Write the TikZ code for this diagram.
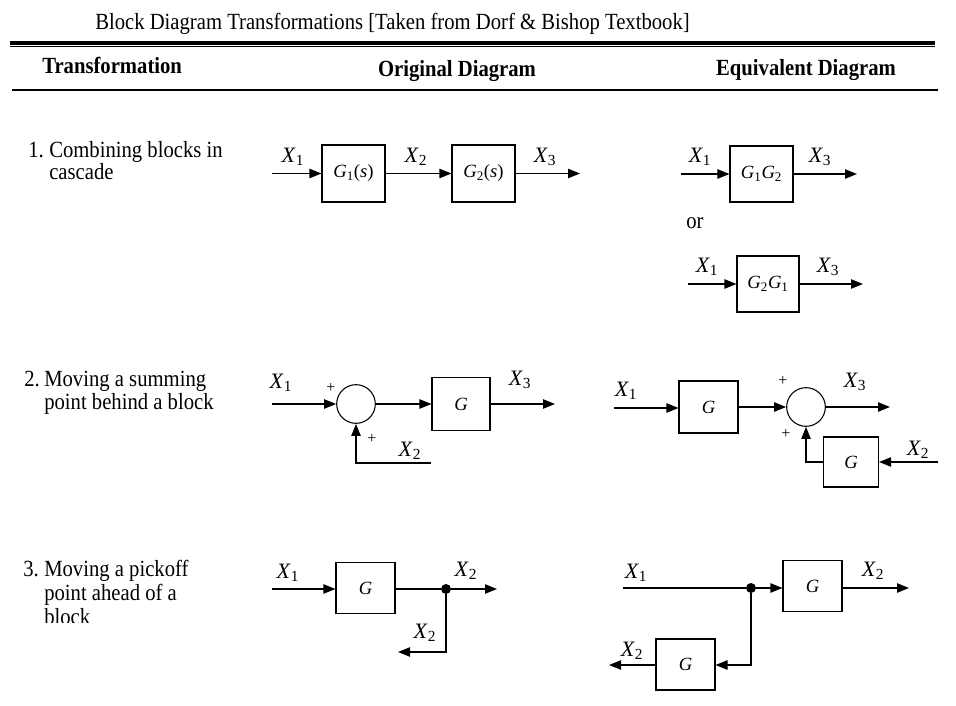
\documentclass[tikz,border=0pt]{standalone}
\usepackage{fontspec}
\setmainfont{Liberation Serif}
\usetikzlibrary{arrows.meta}
\newcommand{\Xs}[1]{\textit{X}\textsubscript{#1}}
\newcommand{\Gs}[1]{\textit{G}\textsubscript{#1}}
\begin{document}
\begin{tikzpicture}[x=0.75pt,y=-0.75pt,
 sig/.style={line width=1pt,-{Triangle[length=9pt,width=7pt]}},
 wire/.style={line width=1pt},
 blk/.style={draw,line width=0.8pt,inner sep=0pt,font=\fontsize{14}{16}\selectfont},
 sumn/.style={draw,circle,line width=0.8pt,minimum size=29pt,inner sep=0pt},
 dotn/.style={circle,fill,minimum size=7.5pt,inner sep=0pt},
 lbl/.style={font=\fontsize{16.5}{18}\selectfont,inner sep=0pt},
 plus/.style={font=\fontsize{12}{14}\selectfont,inner sep=0pt},
 body/.style={font=\fontsize{15.5}{18}\selectfont,inner sep=0pt,anchor=base west,yscale=1.12,transform shape},
 hdr/.style={font=\bfseries\fontsize{15.5}{18}\selectfont,inner sep=0pt,anchor=base,yscale=1.12,transform shape},
]
\useasboundingbox[fill=white] (0,0) rectangle (956,706);

% title and rules
\node[body] (title) at (95,30) {Block Diagram Transformations [Taken from Dorf \& Bishop Textbook]};
\draw[line width=2.6pt] (10,43) -- (935,43);
\draw[line width=1pt] (10,46.8) -- (935,46.8);
\node[hdr,anchor=base west] (h1) at (42,74) {Transformation};
\node[hdr] (h2) at (457,77) {Original Diagram};
\node[hdr] (h3) at (806,76) {Equivalent Diagram};
\draw[line width=1.1pt] (12,90) -- (938,90);

% row texts
\node[body] (n1) at (28,158) {1.};
\node[body] (t1a) at (49,158) {Combining blocks in};
\node[body] (t1b) at (49,180) {cascade};
\node[body] (n2) at (24,386) {2.};
\node[body] (t2a) at (44,386) {Moving a summing};
\node[body] (t2b) at (44,409) {point behind a block};
\node[body] (n3) at (23,576) {3.};
\node[body] (t3a) at (44,576) {Moving a pickoff};
\node[body] (t3b) at (44,600) {point ahead of a};
\begin{scope}
\clip (0,605) rectangle (240,622);
\node[body] (t3c) at (44,624) {block};
\end{scope}

% ---- row 1 original
\coordinate (a1) at (272,173.5);
\node[blk,minimum width=47.25pt,minimum height=42.75pt] (g1) at (353.5,173.5) {\Gs{1}(\textit{s})};
\node[blk,minimum width=47.25pt,minimum height=42.75pt] (g2) at (483.5,173.5) {\Gs{2}(\textit{s})};
\coordinate (a3) at (580,173.5);
\draw[sig] (a1) -- (g1);
\draw[sig] (g1) -- (g2);
\draw[sig] (g2) -- (a3);
\node[lbl] (la1) at (293,157) {\Xs{1}};
\node[lbl] (la2) at (416,157) {\Xs{2}};
\node[lbl] (la3) at (545,157) {\Xs{3}};

% ---- row 1 equivalent
\coordinate (b1) at (681,174);
\node[blk,minimum width=47.25pt,minimum height=42pt] (g12) at (761.5,174) {\Gs{1}\Gs{2}};
\coordinate (b3) at (857,174);
\draw[sig] (b1) -- (g12);
\draw[sig] (g12) -- (b3);
\node[lbl] (lb1) at (700,157) {\Xs{1}};
\node[lbl] (lb3) at (820,157) {\Xs{3}};
\node[body] (or) at (686,228) {or};
\coordinate (b4) at (688,284);
\node[blk,minimum width=46.5pt,minimum height=42pt] (g21) at (768,284) {\Gs{2}\Gs{1}};
\coordinate (b6) at (863,284);
\draw[sig] (b4) -- (g21);
\draw[sig] (g21) -- (b6);
\node[lbl] (lb4) at (707,267) {\Xs{1}};
\node[lbl] (lb6) at (828,267) {\Xs{3}};

% ---- row 2 original
\coordinate (c1) at (272,404);
\node[sumn] (s1) at (356,404) {};
\node[blk,minimum width=43.5pt,minimum height=39.75pt] (g3) at (461,404) {\textit{G}};
\coordinate (c3) at (555,404);
\coordinate (c2) at (431,463);
\draw[sig] (c1) -- (s1);
\draw[sig] (s1) -- (g3);
\draw[sig] (g3) -- (c3);
\draw[sig] (c2) -| (s1);
\node[plus] (p1a) at (331,388) {+};
\node[plus] (p1b) at (372,439) {+};
\node[lbl] (lc1) at (281,383) {\Xs{1}};
\node[lbl] (lc3) at (520,380) {\Xs{3}};
\node[lbl] (lc2) at (410,451) {\Xs{2}};

% ---- row 2 equivalent
\coordinate (d1) at (614,408);
\node[blk,minimum width=44.25pt,minimum height=39pt] (g4) at (708.5,407) {\textit{G}};
\node[sumn] (s2) at (806,407) {};
\coordinate (d3) at (890,407);
\node[blk,minimum width=41.25pt,minimum height=37.5pt] (g5) at (851,462) {\textit{G}};
\coordinate (d2) at (938,462);
\draw[sig] (d1) -- (d1 -| g4.west);
\draw[sig] (g4) -- (s2);
\draw[sig] (s2) -- (d3);
\draw[sig] (d2) -- (g5);
\draw[sig] (g5) -| (s2);
\node[plus] (p2a) at (783,381) {+};
\node[plus] (p2b) at (786,434) {+};
\node[lbl] (ld1) at (626,391) {\Xs{1}};
\node[lbl] (ld3) at (855,382) {\Xs{3}};
\node[lbl] (ld2) at (918,450) {\Xs{2}};

% ---- row 3 original
\coordinate (e1) at (272,589);
\node[blk,minimum width=44.25pt,minimum height=38.25pt] (g6) at (365.5,588) {\textit{G}};
\node[dotn] (q1) at (446,589) {};
\coordinate (e3) at (497,589);
\coordinate (e4) at (398,652);
\draw[sig] (e1) -- (e1 -| g6.west);
\draw[wire] (g6.east |- q1) -- (q1);
\draw[sig] (q1) -- (e3);
\draw[sig] (q1) |- (e4);
\node[lbl] (le1) at (288,573) {\Xs{1}};
\node[lbl] (le2) at (466,571) {\Xs{2}};
\node[lbl] (le4) at (425,633) {\Xs{2}};

% ---- row 3 equivalent
\coordinate (f1) at (623,588);
\node[dotn] (q2) at (751,588) {};
\node[blk,minimum width=44.25pt,minimum height=38.25pt] (g7) at (812.5,586) {\textit{G}};
\coordinate (f3) at (909,588);
\node[blk,minimum width=44.25pt,minimum height=38.25pt] (g8) at (685.5,664.5) {\textit{G}};
\coordinate (f4) at (609,665);
\draw[wire] (f1) -- (q2);
\draw[sig] (q2) -- (q2 -| g7.west);
\draw[sig] (g7.east |- f3) -- (f3);
\draw[sig] (q2) |- (g8.east |- f4);
\draw[sig] (g8.west |- f4) -- (f4);
\node[lbl] (lf1) at (636,573) {\Xs{1}};
\node[lbl] (lf3) at (873,571) {\Xs{2}};
\node[lbl] (lf4) at (632,651) {\Xs{2}};
\end{tikzpicture}
\end{document}
